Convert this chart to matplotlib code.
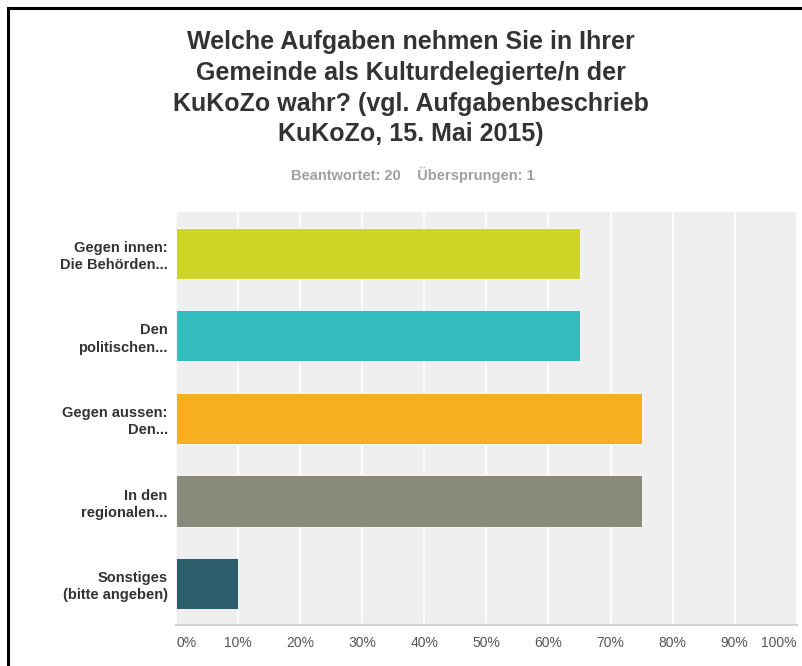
import numpy as np
import matplotlib.pyplot as plt
from matplotlib.patches import Rectangle

categories = ['Gegen innen:\nDie Behörden...', 'Den\npolitischen...', 'Gegen aussen:\nDen...',
			  'In den\nregionalen...', 'Sonstiges\n(bitte angeben)']
values = [65, 65, 75, 75, 10]
colors = ['#cfd526', '#32bcbd', '#f7ae20', '#898a7b', '#2e5e6b']
ticks = [0, 10, 20, 30, 40, 50, 60, 70, 80, 90, 100]
tick_labels = [str(t) + '%' for t in ticks]

title = 'Welche Aufgaben nehmen Sie in Ihrer\nGemeinde als Kulturdelegierte/n der\nKuKoZo wahr? (vgl. Aufgabenbeschrieb\nKuKoZo, 15. Mai 2015)'
subtitle = 'Beantwortet: 20    Übersprungen: 1'

plt.rcParams['font.family'] = ['Liberation Sans', 'DejaVu Sans']

fig = plt.figure(figsize=(8.02, 6.66), dpi=100)

# frame (only left and top edge are visible in the screenshot)
fig.patches.append(Rectangle((0.0105, -0.05), 1.1, 1.038, transform=fig.transFigure,
							 fill=False, edgecolor='black', lw=2.2))

fig.text(0.512, 0.955, title, ha='center', va='top', fontsize=18, fontweight='bold',
		 color='#333333', linespacing=1.36)
fig.text(0.515, 0.737, subtitle, ha='center', va='center', fontsize=10.5, fontweight='bold',
		 color='#a0a0a0')

ax = fig.add_axes([0.2195, 0.0616, 0.774, 0.6201])
ax.set_facecolor('#efefef')
y = np.arange(len(categories))
ax.barh(y, values, height=0.62, color=colors, edgecolor='white', linewidth=0.6, zorder=3)

ax.set_xlim(0, 100)
ax.set_ylim(4.5, -0.5)
ax.set_xticks(ticks)
ax.xaxis.grid(True, color='white', lw=1.2, zorder=0)
ax.set_axisbelow(True)
for s in ['top', 'right', 'left']:
	ax.spines[s].set_visible(False)
ax.spines['bottom'].set_color('#d0d0d0')
ax.spines['bottom'].set_linewidth(1.5)

ax.set_xticklabels(tick_labels, fontsize=10, color='#555555')
ax.tick_params(axis='x', length=0, pad=8)
lbls = ax.get_xticklabels()
lbls[0].set_ha('left')
lbls[-1].set_ha('right')

ax.set_yticks(y)
ax.set_yticklabels(categories, fontsize=10.5, fontweight='bold', color='#333333', linespacing=1.3)
ax.tick_params(axis='y', length=0, pad=6)

plt.savefig('out.png', dpi=100)
